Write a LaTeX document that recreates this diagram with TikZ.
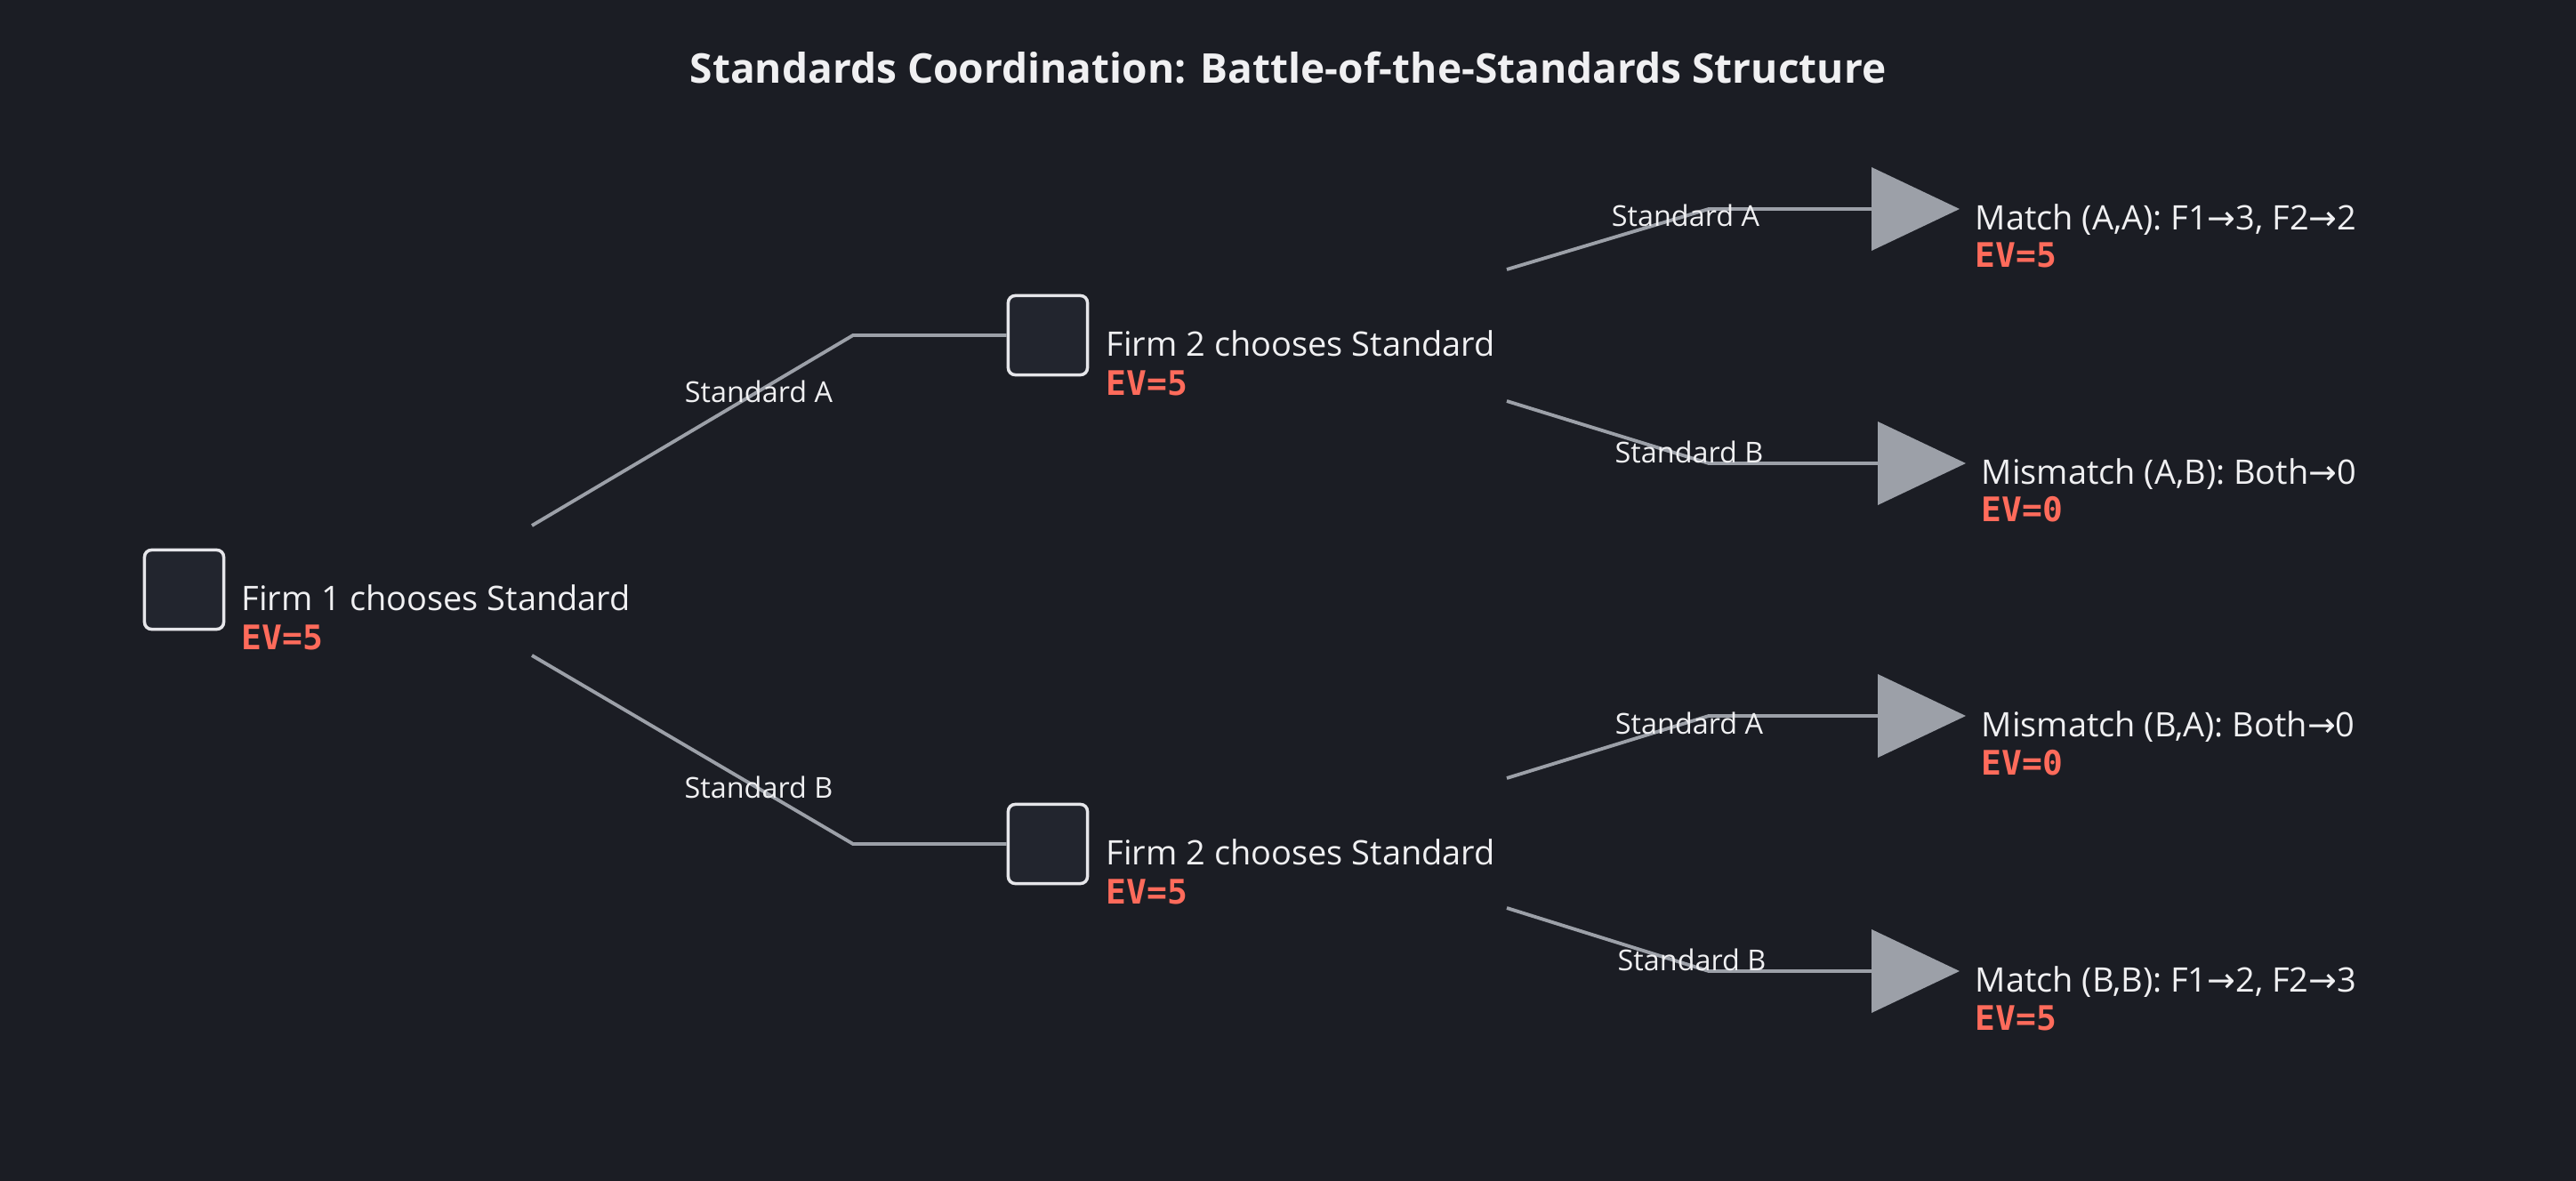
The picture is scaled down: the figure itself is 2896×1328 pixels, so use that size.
\documentclass[tikz,border=0pt]{standalone}
\usepackage{fontspec}
\setmainfont{Open Sans}
\newfontfamily\evfont{DejaVu Sans Mono}
\newfontfamily\symfont{DejaVu Sans}
\newcommand{\toarr}{{\symfont →}}
\definecolor{bg}{HTML}{1B1D24}
\definecolor{boxfill}{HTML}{22252E}
\definecolor{boxline}{HTML}{E6E6EA}
\definecolor{edge}{HTML}{9CA0A8}
\definecolor{txt}{HTML}{F0F0F2}
\definecolor{ev}{HTML}{FF6B5B}
\begin{document}
\begin{tikzpicture}[x=0.01cm,y=-0.01cm,
  dec/.style={draw=boxline,fill=boxfill,line width=1pt,rounded corners=2.2pt,minimum size=0.89cm,inner sep=0},
  lbl/.style={anchor=base west,inner sep=0,text=txt,font=\fontsize{10.8}{13}\selectfont},
  evl/.style={anchor=base west,inner sep=0,text=ev,font=\evfont\bfseries\fontsize{10.8}{13}\selectfont},
  elab/.style={inner sep=0,text=txt,font=\fontsize{9.2}{11}\selectfont},
  br/.style={draw=edge,line width=1.1pt},
  tri/.style={fill=edge}]
\fill[bg] (0,0) rectangle (2896,1328);
\useasboundingbox (0,0) rectangle (2896,1328);
\node[text=txt,font=\bfseries\fontsize{13.1}{16}\selectfont] (title) at (1448,76) {Standards Coordination: Battle-of-the-Standards Structure};
% decision nodes
\node[dec] (root) at (207,663) {};
\node[lbl] (rootl) at (271,687) {Firm 1 chooses Standard};
\node[evl] (rootev) at (271,731) {EV=5};
\node[dec] (fa) at (1178,377) {};
\node[lbl] (fal) at (1243,401) {Firm 2 chooses Standard};
\node[evl] (faev) at (1243,445) {EV=5};
\node[dec] (fb) at (1178,949) {};
\node[lbl] (fbl) at (1243,972) {Firm 2 chooses Standard};
\node[evl] (fbev) at (1243,1016) {EV=5};
% root branches
\coordinate (r1s) at (598,591); \coordinate (r1m) at (959,377);
\coordinate (r2s) at (598,737); \coordinate (r2m) at (959,949);
\draw[br] (r1s) -- (r1m) -- (fa.west);
\draw[br] (r2s) -- (r2m) -- (fb.west);
\node[elab] (e1) at (853,440) {Standard A};
\node[elab] (e2) at (853,885) {Standard B};
% leaves
\coordinate (a1s) at (1694,303); \coordinate (a1m) at (1921,235); \coordinate (t1) at (2104,235);
\coordinate (a2s) at (1694,451); \coordinate (a2m) at (1921,521); \coordinate (t2) at (2111,521);
\coordinate (b1s) at (1694,875); \coordinate (b1m) at (1921,805); \coordinate (t3) at (2111,805);
\coordinate (b2s) at (1694,1021); \coordinate (b2m) at (1921,1092); \coordinate (t4) at (2104,1092);
\foreach \s/\m/\t in {a1s/a1m/t1,a2s/a2m/t2,b1s/b1m/t3,b2s/b2m/t4}{
  \draw[br] (\s) -- (\m) -- (\t);
  \fill[tri] (\t) ++(0,-47) -- ++(99,47) -- ++(-99,47) -- cycle;
}
\node[elab] (l1) at (1895,242) {Standard A};
\node[elab] (l2) at (1899,508) {Standard B};
\node[elab] (l3) at (1899,813) {Standard A};
\node[elab] (l4) at (1902,1079) {Standard B};
\node[lbl] (o1) at (2220,259) {Match (A,A): F1\toarr3, F2\toarr2};
\node[evl] (o1ev) at (2220,301) {EV=5};
\node[lbl] (o2) at (2227,545) {Mismatch (A,B): Both\toarr0};
\node[evl] (o2ev) at (2227,587) {EV=0};
\node[lbl] (o3) at (2227,829) {Mismatch (B,A): Both\toarr0};
\node[evl] (o3ev) at (2227,872) {EV=0};
\node[lbl] (o4) at (2220,1116) {Match (B,B): F1\toarr2, F2\toarr3};
\node[evl] (o4ev) at (2220,1158) {EV=5};
\end{tikzpicture}
\end{document}
